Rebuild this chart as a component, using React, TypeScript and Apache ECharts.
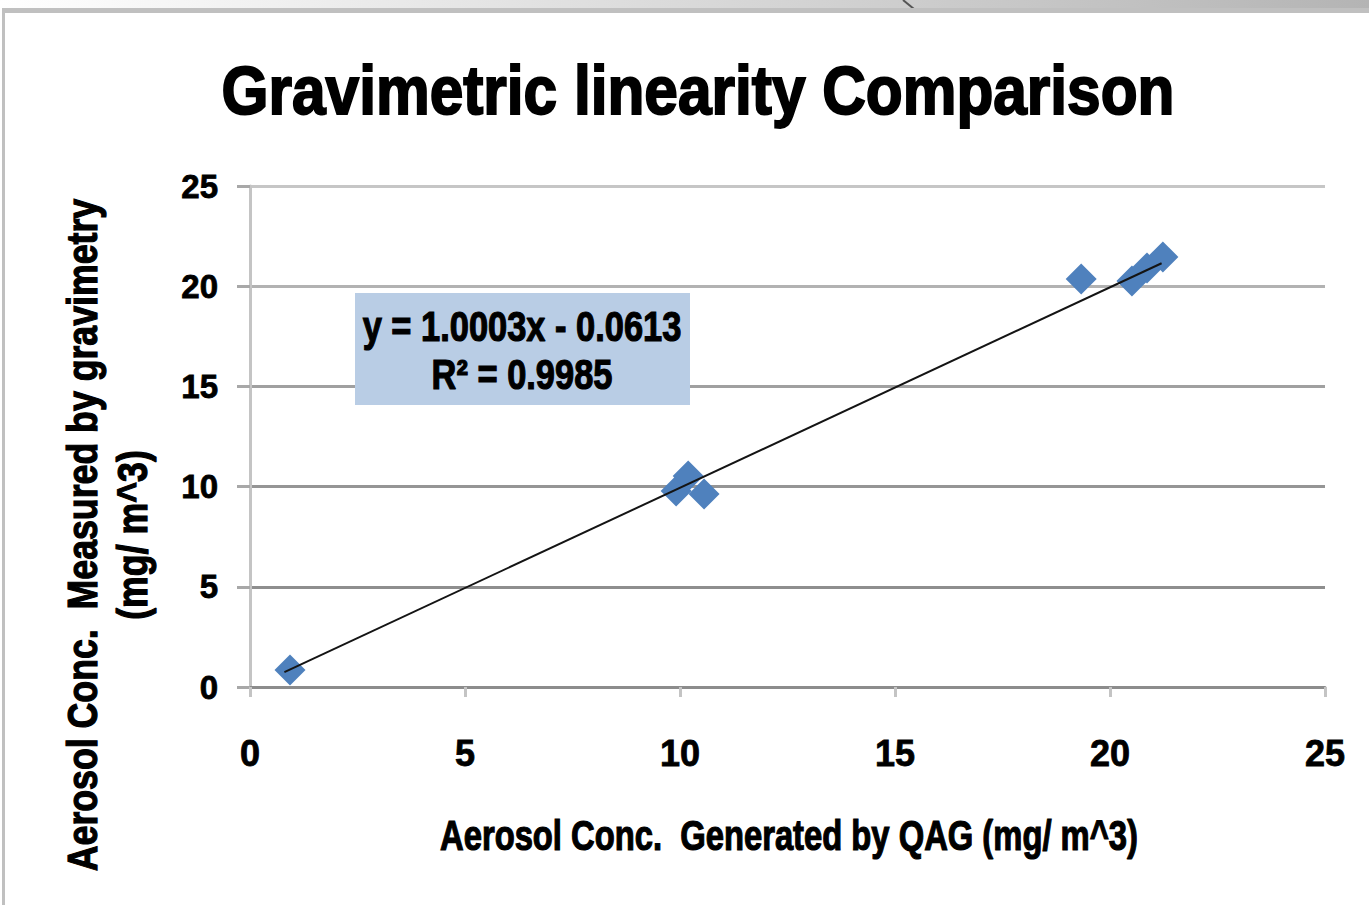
import React, { useEffect, useRef } from "react";
import * as echarts from "echarts";

// Data
const xValues = [0.93, 9.91, 10.19, 10.56, 19.33, 20.51, 20.86, 21.23];
const yValues = [0.85, 9.78, 10.53, 9.63, 20.36, 20.26, 20.91, 21.46];
const trendSlope = 1.0003;
const trendIntercept = -0.0613;
const trendXRange = [0.8, 21.2];
const axisMin = 0;
const axisMax = 25;
const axisStep = 5;
const gridColors = ["#8c8c8c", "#8e8e8e", "#959595", "#a0a0a0", "#b2b2b2", "#c6c6c6"];

const titleText = "Gravimetric linearity Comparison";
const xAxisTitle = "Aerosol Conc.  Generated by QAG (mg/ m^3)";
const yAxisTitleLines = ["Aerosol Conc.  Measured by gravimetry", "(mg/ m^3)"];
const equationLines = ["y = 1.0003x - 0.0613", "R\u00B2 = 0.9985"];

const FONT = "'Liberation Sans', Arial, sans-serif";

export default function App() {
  const ref = useRef<HTMLDivElement>(null);

  useEffect(() => {
    if (!ref.current) return;
    const chart = echarts.init(ref.current, null, { renderer: "svg" });

    const points = xValues.map((x, i) => [x, yValues[i]]);
    const trend = trendXRange.map((x) => [x, trendSlope * x + trendIntercept]);

    const textStyle = (size: number, stroke: number) => ({
      fontFamily: FONT,
      fontWeight: "bold",
      fontSize: size,
      fill: "#000",
      stroke: "#000",
      lineWidth: stroke,
      align: "center",
      verticalAlign: "middle",
    });

    chart.setOption({
      animation: false,
      backgroundColor: "#ffffff",
      grid: { left: 250, right: 44, top: 186, bottom: 218, containLabel: false },
      xAxis: {
        type: "value",
        min: axisMin,
        max: axisMax,
        interval: axisStep,
        axisLine: { show: true, lineStyle: { color: "#8c8c8c", width: 3 } },
        axisTick: { show: true, length: 10, lineStyle: { color: "#c4c4c4", width: 3 } },
        splitLine: { show: false },
        axisLabel: {
          margin: 48,
          fontSize: 36,
          fontWeight: "bold",
          color: "#000",
          fontFamily: FONT,
          textBorderColor: "#000",
          textBorderWidth: 0.8,
        },
      },
      yAxis: {
        type: "value",
        min: axisMin,
        max: axisMax,
        interval: axisStep,
        axisLine: { show: true, lineStyle: { color: "#c4c4c4", width: 3 } },
        axisTick: { show: true, length: 13, lineStyle: { color: "#a8a8a8", width: 3 } },
        splitLine: { show: true, lineStyle: { color: gridColors, width: 3 } },
        axisLabel: {
          margin: 32,
          fontSize: 33,
          fontWeight: "bold",
          color: "#000",
          fontFamily: FONT,
          textBorderColor: "#000",
          textBorderWidth: 0.8,
        },
      },
      series: [
        {
          type: "scatter",
          data: points,
          symbol: "diamond",
          symbolSize: 31,
          itemStyle: { color: "#4f81bd", opacity: 1 },
          z: 2,
        },
        {
          type: "line",
          data: trend,
          symbol: "none",
          lineStyle: { color: "#141414", width: 2 },
          z: 3,
          silent: true,
        },
      ],
      graphic: [
        {
          type: "rect",
          shape: { x: 0, y: 0, width: 1369, height: 8 },
          style: {
            fill: new echarts.graphic.LinearGradient(0, 0, 1, 0, [
              { offset: 0, color: "#ffffff" },
              { offset: 1, color: "#b4b4b4" },
            ]),
          },
          silent: true,
        },
        {
          type: "line",
          shape: { x1: 903, y1: 0, x2: 914, y2: 9 },
          style: { stroke: "#555555", lineWidth: 2 },
          silent: true,
        },
        {
          type: "rect",
          shape: { x: 3, y: 8, width: 1366, height: 5 },
          style: { fill: "#c0c0c0" },
          silent: true,
        },
        {
          type: "rect",
          shape: { x: 2, y: 8, width: 3, height: 897 },
          style: { fill: "#c0c0c0" },
          silent: true,
        },
        {
          type: "text",
          x: 698,
          y: 90,
          scaleX: 0.875,
          style: { text: titleText, ...textStyle(69, 2) },
        },
        {
          type: "text",
          x: 82,
          y: 535,
          rotation: Math.PI / 2,
          scaleX: 0.85,
          style: { text: yAxisTitleLines[0], ...textStyle(42, 1.2) },
        },
        {
          type: "text",
          x: 132,
          y: 535,
          rotation: Math.PI / 2,
          scaleX: 0.85,
          style: { text: yAxisTitleLines[1], ...textStyle(42, 1.2) },
        },
        {
          type: "text",
          x: 789,
          y: 836,
          scaleX: 0.78,
          style: { text: xAxisTitle, ...textStyle(42, 1.2) },
        },
        {
          type: "rect",
          shape: { x: 355, y: 293, width: 335, height: 112 },
          style: { fill: "#b9cde5" },
          z: 10,
        },
        {
          type: "text",
          x: 522,
          y: 326,
          scaleX: 0.82,
          z: 11,
          style: { text: equationLines[0], ...textStyle(42, 1.2) },
        },
        {
          type: "text",
          x: 522,
          y: 374,
          scaleX: 0.82,
          z: 11,
          style: { text: equationLines[1], ...textStyle(42, 1.2) },
        },
      ],
    });

    return () => chart.dispose();
  }, []);

  return (
    <div
      ref={ref}
      style={{ position: "absolute", left: 0, top: 0, width: 1369, height: 905 }}
    />
  );
}
